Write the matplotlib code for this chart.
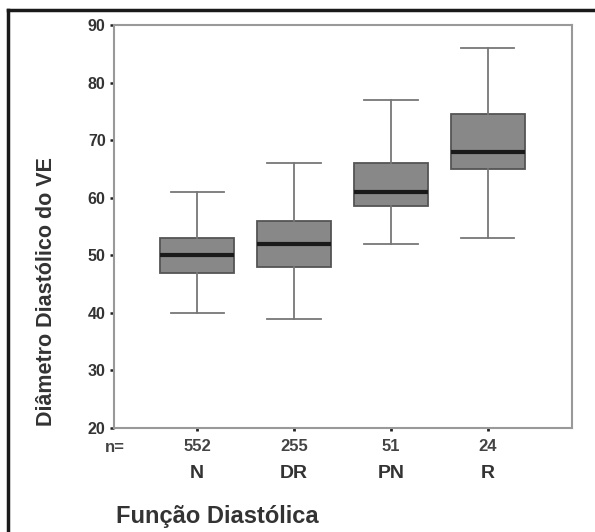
import matplotlib
matplotlib.use("Agg")
import matplotlib.pyplot as plt
from matplotlib.lines import Line2D

plt.rcParams['font.family'] = ['Liberation Sans', 'DejaVu Sans']

categories = ['N', 'DR', 'PN', 'R']
counts = [552, 255, 51, 24]
whisker_low = [40, 39, 52, 53]
q1 = [47, 48, 58.5, 65]
medians = [50, 52, 61, 68]
q3 = [53, 56, 66, 74.5]
whisker_high = [61, 66, 77, 86]
yticks = [20, 30, 40, 50, 60, 70, 80, 90]

txt = '#333333'
W, H = 595, 532

fig = plt.figure(figsize=(W / 100, H / 100), dpi=100)
ax = fig.add_axes([114 / W, 1 - 428 / H, 458 / W, 403 / H])

stats = []
for i in range(len(categories)):
    stats.append({'whislo': whisker_low[i], 'q1': q1[i], 'med': medians[i],
                  'q3': q3[i], 'whishi': whisker_high[i], 'fliers': []})

positions = list(range(1, len(categories) + 1))
ax.bxp(stats, positions=positions, widths=0.76, patch_artist=True,
       showfliers=False,
       boxprops=dict(facecolor='#888888', edgecolor='#555555', linewidth=1.3),
       medianprops=dict(color='#1a1a1a', linewidth=3),
       whiskerprops=dict(color='#777777', linewidth=1.3),
       capprops=dict(color='#777777', linewidth=1.3),
       capwidths=0.55)

ax.set_xlim(0.14, 4.87)
ax.set_ylim(20, 90)
ax.set_yticks(yticks)
ax.set_yticklabels([str(v) for v in yticks], fontsize=11.5, fontweight='bold', color=txt)
ax.tick_params(axis='y', length=3, width=1.8, color='#222222', pad=3)
ax.set_xticks(positions)
ax.set_xticklabels([''] * len(positions))
ax.tick_params(axis='x', length=2, width=2, color='#222222')
for s in ax.spines.values():
    s.set_color('#999999')
    s.set_linewidth(1.5)

# n= row and category labels under the axis
trans = ax.get_xaxis_transform()
fig.text(105 / W, 1 - 447 / H, 'n=', ha='left', va='center',
         fontsize=12, fontweight='bold', color='#444444')
for p, n, c in zip(positions, counts, categories):
    ax.text(p, -0.047, str(n), transform=trans, ha='center', va='center',
            fontsize=12, fontweight='bold', color='#444444')
    ax.text(p, -0.113, c, transform=trans, ha='center', va='center',
            fontsize=14, fontweight='bold', color=txt)

fig.text(116 / W, 1 - 523 / H, 'Função Diastólica', ha='left', va='baseline',
         fontsize=17, fontweight='bold', color=txt)
fig.text(47 / W, 1 - 292 / H, 'Diâmetro Diastólico do VE', ha='center', va='center',
         rotation=90, fontsize=15.5, fontweight='bold', color=txt)

# outer frame (left and top edges)
fig.add_artist(Line2D([8 / W, 8 / W], [0, 1 - 10 / H], color='#1a1a1a', linewidth=2.5))
fig.add_artist(Line2D([8 / W, 1], [1 - 10 / H, 1 - 10 / H], color='#1a1a1a', linewidth=2.5))

fig.savefig('out.png', dpi=100)
